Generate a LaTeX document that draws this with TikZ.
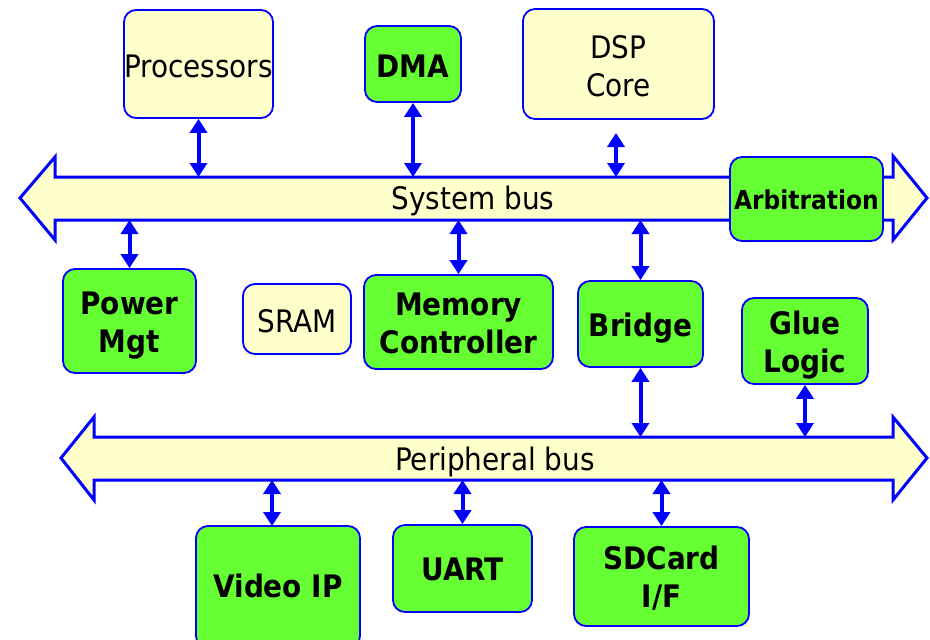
\documentclass[tikz,border=0pt]{standalone}
\usepackage{fontspec}
\setmainfont{DejaVu Sans Condensed}
\usetikzlibrary{arrows.meta,calc}
\definecolor{busblue}{HTML}{0000FF}
\definecolor{boxyellow}{HTML}{FFFFCC}
\definecolor{boxgreen}{HTML}{66FF33}
\begin{document}
\begin{tikzpicture}[x=1pt,y=-1pt,
  yblock/.style={draw=busblue, line width=1.8pt, fill=boxyellow, rounded corners=12pt,
    inner sep=0pt, align=center, font=\fontsize{31}{38}\selectfont},
  gblock/.style={yblock, fill=boxgreen, font=\fontsize{31}{37.5}\selectfont\bfseries},
  tb/.style={text height=#1, text depth=0pt},
  busshape/.style={draw=busblue, line width=3pt, fill=boxyellow, line join=miter},
  bustext/.style={font=\fontsize{31}{36}\selectfont, inner sep=0pt, anchor=base},
  link/.style={draw=busblue, line width=4pt,
    {Triangle[width=17pt,length=14pt]}-{Triangle[width=17pt,length=14pt]}}
]
\useasboundingbox (0,0) rectangle (930,640);

% buses
\draw[busshape] (20,198) -- (55,157) -- (55,177) -- (893,177) -- (893,156) -- (927,198)
  -- (893,240) -- (893,220) -- (55,220) -- (55,240) -- cycle;
\draw[busshape] (61,458) -- (94,417) -- (94,437) -- (893,437) -- (893,417) -- (927,458)
  -- (893,500) -- (893,480) -- (94,480) -- (94,500) -- cycle;
\coordinate (sbtop) at (0,177);
\coordinate (sbbot) at (0,220);
\coordinate (pbtop) at (0,437);
\coordinate (pbbot) at (0,480);
\node[bustext] (sbus) at (473,209) {System bus};
\node[bustext] (pbus) at (495,470) {Peripheral bus};

% blocks
\node[yblock, tb=26pt, minimum width=149pt, minimum height=108pt] (proc) at (198.5,64) {Processors};
\node[gblock, tb=26pt, minimum width=96pt, minimum height=76pt] (dma) at (413,64) {DMA};
\node[yblock, tb=64pt, minimum width=191pt, minimum height=110pt] (dsp) at (618.5,64) {DSP\\Core};
\node[gblock, tb=20pt, minimum width=153pt, minimum height=84pt, font=\fontsize{26}{30}\selectfont\bfseries] (arb) at (806.5,199) {Arbitration};
\node[gblock, tb=62pt, minimum width=133pt, minimum height=104pt] (pm) at (129.5,321) {Power\\Mgt};
\node[yblock, tb=26pt, minimum width=108pt, minimum height=70pt] (sram) at (297,319) {SRAM};
\node[gblock, tb=62pt, minimum width=189pt, minimum height=94pt] (mem) at (458.5,322) {Memory\\Controller};
\node[gblock, tb=24pt, minimum width=125pt, minimum height=86pt] (br) at (640.5,324) {Bridge};
\node[gblock, tb=62pt, minimum width=126pt, minimum height=86pt] (glue) at (805,341) {Glue\\Logic};
\node[gblock, tb=20pt, minimum width=164pt, minimum height=122pt] (vid) at (278,587) {Video IP};
\node[gblock, tb=23pt, minimum width=139pt, minimum height=87pt] (uart) at (462.5,568.5) {UART};
\node[gblock, tb=61pt, minimum width=175pt, minimum height=99pt] (sd) at (661.5,576.5) {SDCard\\I/F};

% connectors
\coordinate (dspend) at (616,133);
\coordinate (vidtop) at (272,526);
\draw[link] (proc.south) -- (proc.south |- sbtop);
\draw[link] (dma.south) -- (dma.south |- sbtop);
\draw[link] (dspend) -- (dspend |- sbtop);
\draw[link] (pm.north |- sbbot) -- (pm.north);
\draw[link] (mem.north |- sbbot) -- (mem.north);
\draw[link] (br.north |- sbbot) -- (br.north);
\draw[link] (br.south) -- (br.south |- pbtop);
\draw[link] (glue.south) -- (glue.south |- pbtop);
\draw[link] (vidtop |- pbbot) -- (vidtop);
\draw[link] (uart.north |- pbbot) -- (uart.north);
\draw[link] (sd.north |- pbbot) -- (sd.north);
\end{tikzpicture}
\end{document}
